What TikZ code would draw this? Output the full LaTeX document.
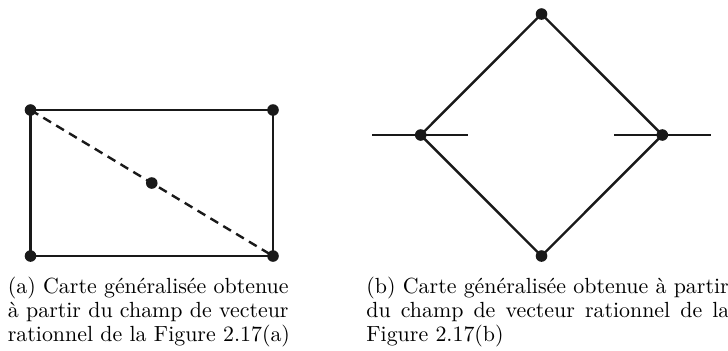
\documentclass[tikz,border=0pt]{standalone}
\begin{document}
\begin{tikzpicture}[x=0.5pt,y=-0.5pt,
  edge/.style={line width=1.2pt,draw=black!90},
  dashedge/.style={line width=1.2pt,draw=black!90,dash pattern=on 4.5pt off 3pt},
  dotnode/.style={circle,fill=black!90,inner sep=0pt,minimum size=5.8pt},
  captext/.style={anchor=base west,inner sep=0pt,font=\fontsize{10.95}{12}\selectfont}]
\useasboundingbox (0,0) rectangle (728,350);
% (a) rectangle
\coordinate (tl) at (30.5,110);
\coordinate (tr) at (273,110);
\coordinate (bl) at (30.5,256);
\coordinate (br) at (273,256);
\coordinate (mid) at (151.75,183);
\draw[edge] (tl) -- (tr) -- (br) -- (bl) -- cycle;
\draw[dashedge] (tl) -- (br);
\foreach \p in {tl,tr,bl,br,mid} \node[dotnode] (d\p) at (\p) {};
% (b) diamond
\coordinate (top) at (541.5,14);
\coordinate (lft) at (420.7,135);
\coordinate (rgt) at (662.3,135);
\coordinate (bot) at (541.5,256);
\coordinate (l1) at (372.3,135);
\coordinate (l2) at (468.3,135);
\coordinate (r1) at (614.3,135);
\coordinate (r2) at (710.7,135);
\draw[edge] (top) -- (rgt) -- (bot) -- (lft) -- cycle;
\draw[edge] (l1) -- (l2);
\draw[edge] (r1) -- (r2);
\foreach \p in {top,lft,rgt,bot} \node[dotnode] (d\p) at (\p) {};
% captions
\node[captext] (capa) at (7.5,293) {\parbox[t]{142pt}{(a) Carte généralisée obtenue\\
à partir du champ de vecteur\\
rationnel de la Figure 2.17(a)}};
\node[captext] (capb) at (366,293) {\parbox[t]{181.5pt}{(b) Carte généralisée obtenue à partir\\
\makebox[\linewidth][s]{du champ de vecteur rationnel de la}\\
Figure 2.17(b)}};
\end{tikzpicture}
\end{document}
